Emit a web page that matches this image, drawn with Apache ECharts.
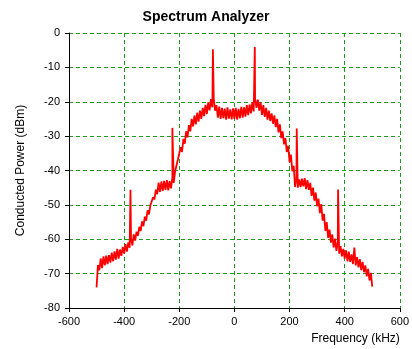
<!DOCTYPE html>
<html>
<head>
<meta charset="utf-8">
<script src="https://cdn.jsdelivr.net/npm/echarts@6/dist/echarts.min.js"></script>
<style>
  html, body { margin: 0; padding: 0; background: #fff; }
  #chart { width: 412px; height: 349px; }
</style>
</head>
<body>
<div id="chart"></div>
<script>
const freqStart = -500;
const freqStep = 5;
const powerDbm = [
  -74.0, -67.5, -69.0, -65.6, -68.4, -65.0, -67.6, -64.8, -67.2, -64.6,
  -66.8, -63.9, -66.4, -63.5, -65.9, -62.8, -65.6, -63.0, -64.8, -62.2,
  -64.2, -61.4, -63.6, -60.9, -62.5, -60.0, -61.8, -58.6, -60.4, -57.8,
  -59.0, -56.4, -57.6, -54.8, -56.2, -53.4, -54.6, -51.6, -52.8, -50.2,
  -50.6, -47.8, -48.4, -45.6, -46.9, -43.5, -46.2, -43.2, -45.9, -43.0,
  -45.6, -42.8, -45.8, -43.1, -45.2, -42.0, -43.6, -40.2, -40.4, -36.8,
  -36.4, -33.2, -34.6, -30.8, -32.2, -28.6, -30.4, -26.8, -28.6, -25.0,
  -27.2, -24.0, -26.6, -23.2, -25.8, -22.6, -25.0, -21.8, -24.2, -20.9,
  -23.6, -20.2, -22.5, -19.2, -21.6, -19.0, -22.6, -21.0, -24.6, -21.4,
  -25.0, -21.8, -24.8, -22.0, -25.2, -21.6, -24.9, -22.2, -25.1, -21.9,
  -25.0, -21.8, -25.2, -22.1, -24.8, -21.5, -24.6, -21.6, -24.3, -21.0,
  -23.9, -20.8, -23.4, -20.2, -22.8, -19.0, -21.8, -19.4, -22.6, -20.2,
  -23.8, -21.0, -24.4, -21.8, -25.2, -22.6, -25.6, -23.4, -26.4, -24.0,
  -27.4, -25.0, -28.9, -26.6, -30.6, -28.6, -32.4, -30.6, -34.6, -32.8,
  -37.6, -35.4, -40.2, -38.6, -44.8, -42.4, -45.0, -42.6, -44.8, -42.4,
  -44.6, -42.2, -45.4, -42.8, -45.6, -43.6, -47.4, -45.0, -48.8, -46.4,
  -50.4, -48.2, -52.4, -49.8, -54.6, -52.6, -57.6, -55.0, -59.6, -57.2,
  -61.0, -58.6, -62.4, -59.8, -63.4, -60.8, -64.2, -62.0, -65.0, -62.8,
  -65.6, -63.2, -66.4, -63.6, -66.6, -64.4, -67.2, -62.4, -67.6, -65.2,
  -68.2, -65.8, -69.0, -66.6, -69.6, -67.6, -70.8, -68.6, -72.0, -69.8,
  -73.8
];
// narrow spurs: [kHz, dBm]
const spurs = [
  [-377, -45.6], [-225, -27.6], [-78, -4.7],
  [74, -4.1], [226, -27.8], [376, -45.5]
];
const xTicks = { min: -600, max: 600, interval: 200 };
const yTicks = { min: -80, max: 0, interval: 10 };

const trace = powerDbm.map((v, i) => [freqStart + i * freqStep, v])
  .concat(spurs)
  .sort((a, b) => a[0] - b[0]);

const gridGreen = '#1f9a1f';
const font = 'Liberation Sans, Arial, sans-serif';

const chart = echarts.init(document.getElementById('chart'));
chart.setOption({
  animation: false,
  title: {
    text: 'Spectrum Analyzer',
    left: 'center',
    top: 5,
    textStyle: { fontFamily: font, fontSize: 14, fontWeight: 'bold', color: '#000' }
  },
  grid: { left: 69, right: 9, top: 33, bottom: 41, containLabel: false },
  xAxis: {
    type: 'value',
    min: xTicks.min, max: xTicks.max, interval: xTicks.interval,
    name: 'Frequency (kHz)',
    nameLocation: 'end',
    nameGap: 0,
    nameTextStyle: {
      fontFamily: font, fontSize: 12, color: '#000',
      align: 'right', verticalAlign: 'top', padding: [25, 0, 0, 0]
    },
    axisLine: { onZero: false, lineStyle: { color: '#000', width: 1 } },
    axisTick: { show: true, length: 4, lineStyle: { color: '#000' } },
    axisLabel: { fontFamily: font, fontSize: 11, color: '#000', margin: 8 },
    splitLine: { show: true, lineStyle: { color: gridGreen, type: [4, 3], width: 1 } }
  },
  yAxis: {
    type: 'value',
    min: yTicks.min, max: yTicks.max, interval: yTicks.interval,
    name: 'Conducted Power (dBm)',
    nameLocation: 'middle',
    nameGap: 42,
    nameTextStyle: { fontFamily: font, fontSize: 12, color: '#000' },
    axisLine: { show: true, onZero: false, lineStyle: { color: '#000', width: 1 } },
    axisTick: { show: true, length: 4, lineStyle: { color: '#000' } },
    axisLabel: { fontFamily: font, fontSize: 11, color: '#000', margin: 9 },
    splitLine: { show: true, lineStyle: { color: gridGreen, type: [4, 3], width: 1 } }
  },
  series: [{
    type: 'line',
    data: trace,
    showSymbol: false,
    lineStyle: { color: '#ff0000', width: 1.8 },
    z: 3
  }]
});
</script>
</body>
</html>
